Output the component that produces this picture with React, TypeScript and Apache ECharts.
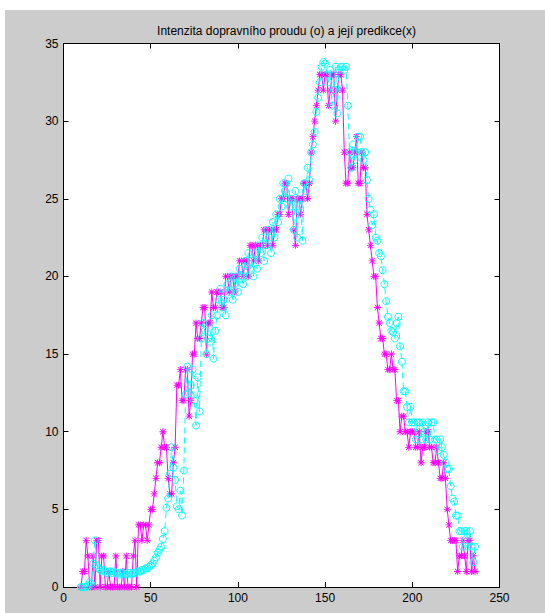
import React, { useEffect, useRef } from "react";
import * as echarts from "echarts";

const titleText = "Intenzita dopravního proudu (o) a její predikce(x)";

// sample times: 10, 11, ..., 236
const timeStart = 10;
const timeStep = 1;

// measured intensity (o) – cyan circles, dashed line
const measured = [
  0, 0, 0, 0, 0.1, 0.3, 0.2, 1.5, 3, 1.4,
  1.2, 1.1, 1.0, 1.1, 1.0, 0.9, 1.0, 1.0, 0.9, 1.0,
  0.9, 0.9, 0.8, 0.9, 0.9, 0.8, 0.8, 0.9, 0.9, 0.8,
  0.9, 0.9, 1.0, 1.0, 1.0, 1.1, 1.1, 1.2, 1.2, 1.3,
  1.4, 1.5, 1.7, 1.9, 2.2, 2.4, 2.6, 3.1, 3.6, 5.1,
  5.7, 7.3, 9.0, 7.7, 6.9, 5.2, 5.0, 6.2, 4.6, 7.5,
  12.4, 14.2, 12.5, 13.0, 14.0, 12.0, 10.4, 13.5, 11.3, 16.0,
  17.0, 16.5, 15.0, 16.0, 15.8, 17.5, 14.7, 16.5, 17.5, 18.5,
  19.2, 18.0, 18.5, 17.5, 19.5, 19.0, 20.0, 18.5, 19.5, 20.0,
  19.0, 20.5, 20.0, 19.5, 21.0, 20.0, 21.5, 20.5, 21.0, 20.0,
  21.5, 20.5, 22.0, 21.5, 22.5, 21.0, 22.0, 23.0, 22.5, 21.5,
  23.5, 22.5, 24.0, 23.5, 25.0, 24.5, 26.0, 25.5, 25.0, 26.3,
  24.5, 25.0, 23.0, 25.5, 22.5, 24.5, 25.0, 22.3, 26.0, 25.5,
  27.0, 26.2, 28.0, 28.5, 29.3, 30.6, 31.5, 32.5, 33.5, 33.8,
  33.7, 33.0, 32.5, 33.3, 31.0, 32.0, 33.5, 30.5, 33.3, 33.5,
  33.5, 33.3, 33.5, 31.0, 28.0, 27.0, 28.5, 27.5, 28.0, 29.0,
  29.0, 28.0, 27.5, 28.0, 26.2, 25.0, 24.3, 23.3, 24.0, 22.5,
  22.3, 21.5, 21.3, 20.4, 19.5, 18.4, 17.4, 17.0, 16.5, 16.4,
  16.0, 17.0, 17.4, 15.5, 14.5, 12.6, 12.6, 11.6, 10.6, 11.6,
  10.6, 10.6, 9.5, 10.6, 10.6, 9.5, 10.6, 10.0, 9.5, 10.6,
  9.5, 10.6, 10.6, 9.5, 9.5, 8.8, 9.5, 9.0, 8.5, 8.0,
  7.6, 7.6, 6.5, 5.7, 5.5, 4.6, 4.6, 3.6, 3.6, 2.6,
  3.6, 3.6, 2.6, 3.6, 2.6, 1.6, 2.6,
];

// prediction (x) – magenta asterisks, solid line
const predicted = [
  0, 1, 1, 3, 2, 0, 0, 2, 0, 3,
  3, 0, 2, 2, 0, 0, 1, 0, 0, 0,
  2, 0, 0, 0, 1, 0, 2, 0, 0, 0,
  2, 3, 0, 4, 4, 3, 4, 4, 3, 4,
  5, 5, 6, 7, 8, 8, 9, 10, 9, 9,
  7, 6, 6, 8, 9, 13, 13, 14, 12, 12,
  14, 14, 11, 12, 15, 15, 17, 16, 16, 17,
  18, 18, 15, 17, 17, 19, 18, 18, 19, 19,
  19, 18, 18, 20, 20, 19, 20, 20, 19, 20,
  20, 21, 21, 20, 21, 21, 20, 22, 22, 21,
  22, 22, 21, 22, 22, 23, 23, 22, 23, 23,
  22, 23, 23, 24, 24, 25, 25, 26, 26, 24,
  25, 25, 23, 22, 25, 25, 24, 25, 26, 26,
  25, 26, 28, 29, 30, 31, 32, 33, 33, 32,
  33, 33, 31, 32, 33, 33, 30, 32, 33, 33,
  32, 28, 26, 26, 28, 27, 27, 28, 29, 26,
  26, 28, 27, 27, 24, 23, 22, 21, 20, 20,
  18, 17, 16, 16, 15, 15, 14, 14, 15, 14,
  14, 12, 12, 10, 11, 11, 10, 10, 9, 10,
  10, 10, 9, 9, 10, 8, 9, 9, 10, 10,
  9, 9, 8, 8, 9, 8, 7, 7, 8, 7,
  5, 4, 3, 3, 3, 3, 1, 2, 2, 3,
  2, 1, 3, 3, 1, 2, 1,
];

const xMin = 0;
const xMax = 250;
const xInterval = 50;
const yMin = 0;
const yMax = 35;
const yInterval = 5;

const asterisk =
  "path://M4.4 0h1.2v10h-1.2z M0 4.4h10v1.2h-10z M1.6 0.8L9.2 8.4L8.4 9.2L0.8 1.6z M8.4 0.8L9.2 1.6L1.6 9.2L0.8 8.4z";

const FONT = "'Liberation Sans', Arial, Helvetica, sans-serif";

export default function App() {
  const ref = useRef<HTMLDivElement>(null);

  useEffect(() => {
    if (!ref.current) return;
    const chart = echarts.init(ref.current, undefined, { renderer: "svg" });
    const times = measured.map((_, i) => timeStart + i * timeStep);
    const measuredData = measured.map((v, i) => [times[i], v]);
    const predictedData = predicted.map((v, i) => [times[i], v]);

    const axisCommon = {
      axisLine: { show: true, onZero: false, lineStyle: { color: "#000", width: 1 } },
      axisTick: { show: true, inside: true, length: 5, lineStyle: { color: "#000" } },
      splitLine: { show: false },
    };

    chart.setOption({
      animation: false,
      backgroundColor: "#ffffff",
      title: {
        text: titleText,
        left: 281.5,
        top: 20,
        textAlign: "center",
        textStyle: { fontFamily: FONT, fontSize: 12, fontWeight: "normal", color: "#000" },
      },
      graphic: [
        {
          type: "rect",
          z: -10,
          silent: true,
          shape: { x: 5, y: 10, width: 540, height: 603 },
          style: { fill: "#cccccc" },
        },
      ],
      grid: {
        left: 63.5,
        right: 45.5,
        top: 43.5,
        bottom: 26,
        show: true,
        backgroundColor: "#ffffff",
        borderWidth: 0,
        containLabel: false,
      },
      xAxis: [
        {
          type: "value",
          position: "bottom",
          min: xMin,
          max: xMax,
          interval: xInterval,
          ...axisCommon,
          axisLabel: { fontFamily: FONT, fontSize: 12, color: "#000", margin: 5 },
        },
        {
          type: "value",
          position: "top",
          min: xMin,
          max: xMax,
          interval: xInterval,
          ...axisCommon,
          axisLabel: { show: false },
        },
      ],
      yAxis: [
        {
          type: "value",
          position: "left",
          min: yMin,
          max: yMax,
          interval: yInterval,
          ...axisCommon,
          axisLabel: { fontFamily: FONT, fontSize: 12, color: "#000", margin: 5 },
        },
        {
          type: "value",
          position: "right",
          min: yMin,
          max: yMax,
          interval: yInterval,
          ...axisCommon,
          axisLabel: { show: false },
        },
      ],
      series: [
        {
          type: "line",
          name: "predicted",
          data: predictedData,
          xAxisIndex: 0,
          yAxisIndex: 0,
          symbol: asterisk,
          symbolSize: 7,
          showSymbol: true,
          showAllSymbol: true,
          lineStyle: { color: "#ff00ff", width: 1 },
          itemStyle: { color: "#ff00ff", borderWidth: 0 },
          emphasis: { disabled: true },
          z: 2,
        },
        {
          type: "line",
          name: "measured",
          data: measuredData,
          xAxisIndex: 0,
          yAxisIndex: 0,
          symbol: "circle",
          symbolSize: 7,
          showSymbol: true,
          showAllSymbol: true,
          lineStyle: { color: "#00ffff", width: 1, type: [6, 4] },
          itemStyle: { color: "rgba(0,0,0,0)", borderColor: "#00ffff", borderWidth: 1 },
          emphasis: { disabled: true },
          z: 3,
        },
      ],
    });
    return () => chart.dispose();
  }, []);

  return (
    <div
      ref={ref}
      style={{ position: "fixed", left: 0, top: 0, width: 545, height: 613 }}
    />
  );
}
